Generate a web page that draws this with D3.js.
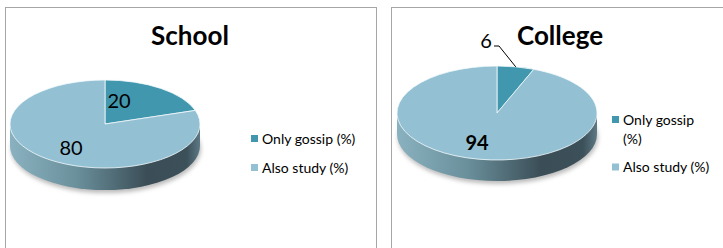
<!DOCTYPE html>
<html>
<head>
<meta charset="utf-8">
<script src="https://cdn.jsdelivr.net/npm/d3@7"></script>
<style>
  body { margin: 0; background: #fff; }
  text { font-family: Lato, "Open Sans", sans-serif; }
</style>
</head>
<body>
<svg id="chart" width="723" height="248"></svg>
<script>
// data
var categories = ["Only gossip (%)", "Also study (%)"]
var titles = ["School", "College"]
var schoolValues = [20, 80]
var collegeValues = [6, 94]
var seriesValues = [schoolValues, collegeValues]

var color = d3.scaleOrdinal(categories, ["#4197ad", "#93c1d3"])

// layout for each panel (positions only)
var panels = [
  {x: 5.5, w: 371, title: [190, 45], cx: 105, cy: 124, rx: 95, ry: 44, depth: 22,
   labels: [[119, 108], [71, 155]], weights: ["normal", "normal"], leader: null,
   legend: {x: 251, y: 138.5, wrap: [false, false]}},
  {x: 391.5, w: 345, title: [560, 45], cx: 497, cy: 113, rx: 100, ry: 47, depth: 21,
   labels: [[486, 48], [477, 150]], weights: ["normal", "bold"], leader: [[494, 46], [499, 46]],
   legend: {x: 612, y: 119.5, wrap: [true, false]}}
]

var svg = d3.select("#chart")
var defs = svg.append("defs")

var grad = defs.append("linearGradient").attr("id", "side")
  .attr("x1", 0).attr("x2", 1).attr("y1", 0).attr("y2", 0)
grad.append("stop").attr("offset", "0%").attr("stop-color", "#8ab1bf")
grad.append("stop").attr("offset", "35%").attr("stop-color", "#6a909c")
grad.append("stop").attr("offset", "72%").attr("stop-color", "#3b4e57")
grad.append("stop").attr("offset", "93%").attr("stop-color", "#3c5059")
grad.append("stop").attr("offset", "100%").attr("stop-color", "#5d7985")

defs.append("filter").attr("id", "blur").attr("x", "-20%").attr("y", "-50%")
  .attr("width", "140%").attr("height", "200%")
  .append("feGaussianBlur").attr("stdDeviation", 2)

var pie = d3.pie().sort(null).value(function(d){ return d })

function drawPanel(p, i) {
  var values = seriesValues[i]
  var g = svg.append("g")

  g.append("rect")
    .attr("x", p.x).attr("y", 7.5)
    .attr("width", p.w).attr("height", 260)
    .attr("fill", "#fff")
    .attr("stroke", "#a6a6a6")

  g.append("text")
    .attr("x", p.title[0]).attr("y", p.title[1])
    .attr("text-anchor", "middle")
    .attr("font-size", "26px")
    .attr("font-weight", "bold")
    .text(titles[i])

  var k = p.rx / p.ry
  var arc = d3.arc().innerRadius(0).outerRadius(p.rx)

  // shadow
  g.append("ellipse")
    .attr("cx", p.cx + 1).attr("cy", p.cy + p.depth + 3)
    .attr("rx", p.rx).attr("ry", p.ry)
    .attr("fill", "#bbb")
    .attr("filter", "url(#blur)")

  // side of the pie
  var side = g.append("g")
    .attr("transform", "translate(" + p.cx + "," + p.cy + ") scale(1," + (1 / k) + ")")
  side.append("circle")
    .attr("cx", 0).attr("cy", p.depth * k)
    .attr("r", p.rx)
    .attr("fill", "url(#side)")
  side.append("rect")
    .attr("x", -p.rx).attr("y", 0)
    .attr("width", 2 * p.rx).attr("height", p.depth * k)
    .attr("fill", "url(#side)")

  // top face
  var top = g.append("g")
    .attr("transform", "translate(" + p.cx + "," + p.cy + ") scale(1," + (1 / k) + ")")
  var arcs = pie(values)
  top.selectAll("path")
    .data(arcs)
    .enter()
    .append("path")
      .attr("d", arc)
      .attr("fill", function(d, j){ return color(categories[j]) })
      .attr("stroke", "#f4fafc")
      .attr("stroke-width", 0.8)
      .attr("vector-effect", "non-scaling-stroke")

  // data labels
  g.selectAll(".lbl")
    .data(arcs)
    .enter()
    .append("text")
      .attr("class", "lbl")
      .attr("x", function(d, j){ return p.labels[j][0] })
      .attr("y", function(d, j){ return p.labels[j][1] })
      .attr("text-anchor", "middle")
      .attr("font-size", "20px")
      .attr("font-weight", function(d, j){ return p.weights[j] })
      .attr("fill", "#000")
      .text(function(d){ return d.data })

  if (p.leader) {
    var a = arcs[0]
    var mid = (a.startAngle + a.endAngle) / 2
    var end = [p.cx + p.rx * Math.sin(mid), p.cy - p.ry * Math.cos(mid)]
    g.append("path")
      .attr("d", d3.line()(p.leader.concat([end])))
      .attr("fill", "none")
      .attr("stroke", "#000")
      .attr("stroke-width", 1)
  }

  // legend
  var ly = p.legend.y
  categories.forEach(function(c, j) {
    g.append("rect")
      .attr("x", p.legend.x).attr("y", ly - 3.5)
      .attr("width", 7).attr("height", 7)
      .attr("fill", color(c))
    var t = g.append("text")
      .attr("x", p.legend.x + 11).attr("y", ly + 5)
      .attr("font-size", "14px")
      .attr("fill", "#000")
    var words = c.split(" ")
    if (p.legend.wrap[j]) {
      var last = words.pop()
      t.append("tspan").attr("x", p.legend.x + 11).text(words.join(" "))
      t.append("tspan").attr("x", p.legend.x + 11).attr("dy", 19).text(last)
      ly += 47.5
    } else {
      t.text(c)
      ly += 29
    }
  })
}

panels.forEach(drawPanel)
</script>
</body>
</html>
